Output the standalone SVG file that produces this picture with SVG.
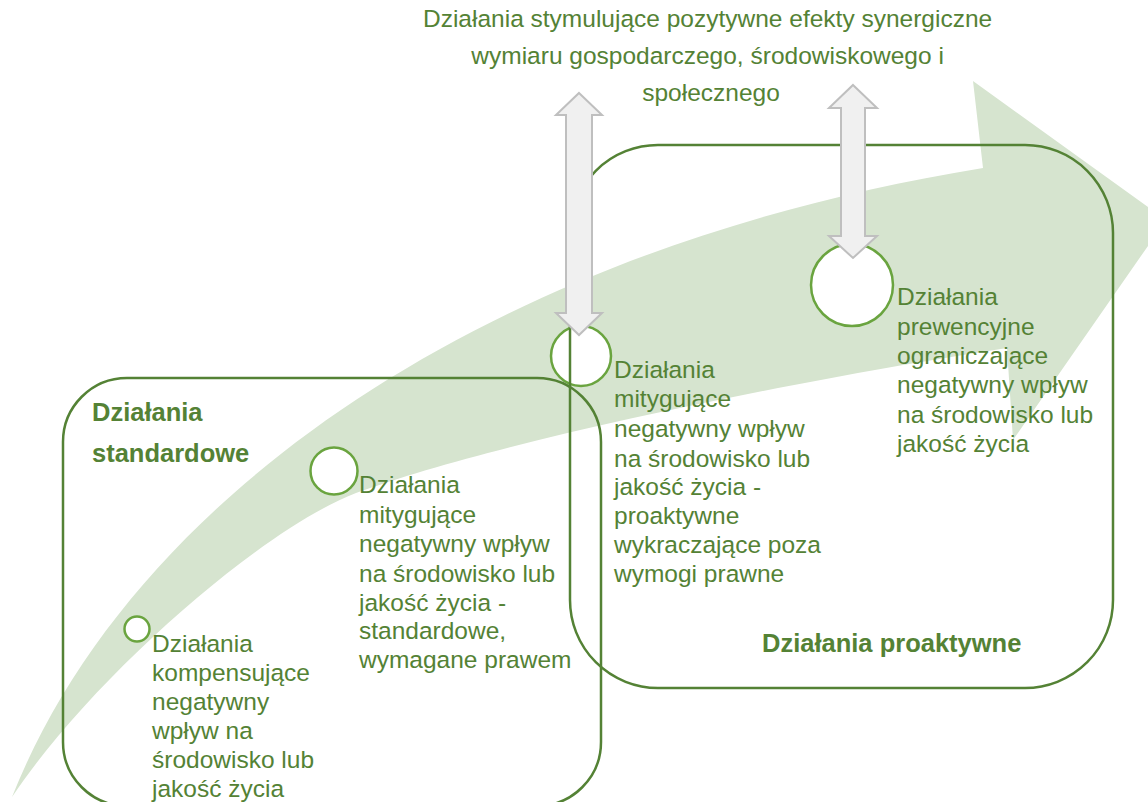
<svg xmlns="http://www.w3.org/2000/svg" width="1148" height="802" viewBox="0 0 1148 802">
<style>
.t { font-family: "Liberation Sans", Arial, sans-serif; font-size: 24.5px; fill: #548235; }
.b { font-weight: bold; font-size: 25.5px; }
.box { fill: none; stroke: #548235; stroke-width: 2.5; }
.dot { fill: #ffffff; stroke: #6aa43f; stroke-width: 2.5; }
.garrow { fill: #f0f0f0; stroke: #bfbfbf; stroke-width: 2; stroke-linejoin: miter; }
.flow { fill: #d6e4cf; }
</style>
<rect width="1148" height="802" fill="#ffffff"/>
<g id="flow-arrow">
  <path class="flow" d="M12,797 C130,500 480,250 983,168 L973,81 L1166,220 L1013,440 L1007,348 C800,380 500,440 356,493 C260,530 90,680 12,797 Z"/>
</g>
<g id="node-kompensujace">
  <circle class="dot" cx="137" cy="629" r="12.5"/>
</g>
<g id="node-mitygujace-standardowe">
  <circle class="dot" cx="334" cy="471" r="23.5"/>
</g>
<g id="node-mitygujace-proaktywne">
  <circle class="dot" cx="581" cy="356" r="30"/>
</g>
<g id="node-prewencyjne">
  <circle class="dot" cx="852" cy="285" r="41"/>
</g>
<g id="group-standardowe">
  <rect class="box" x="63" y="378" width="538" height="428" rx="64" ry="64"/>
  <text class="t b" x="92" y="421">Działania</text>
  <text class="t b" x="92" y="462">standardowe</text>
</g>
<g id="group-proaktywne">
  <rect class="box" x="570" y="145" width="543" height="543" rx="88" ry="88"/>
  <text class="t b" x="762" y="652">Działania proaktywne</text>
</g>
<g id="connectors">
  <polygon class="garrow" points="579,93 602,115 592,115 592,313 602,313 579,335 556,313 566,313 566,115 556,115"/>
  <polygon class="garrow" points="853,85 877,108 865,108 865,236 877,236 853,258 829,236 841,236 841,108 829,108"/>
</g>
<g id="node-synergia">
  <text class="t" text-anchor="middle">
    <tspan x="711" y="27">Działania stymulujące pozytywne efekty synergiczne</tspan>
    <tspan x="711" y="64">wymiaru gospodarczego, środowiskowego i</tspan>
    <tspan x="711" y="101">społecznego</tspan>
  </text>
</g>
<g id="label-kompensujace">
  <text class="t">
    <tspan x="152" y="652">Działania</tspan>
    <tspan x="152" y="681">kompensujące</tspan>
    <tspan x="152" y="710">negatywny</tspan>
    <tspan x="152" y="739">wpływ na</tspan>
    <tspan x="152" y="768">środowisko lub</tspan>
    <tspan x="152" y="797">jakość życia</tspan>
  </text>
</g>
<g id="label-mitygujace-standardowe">
  <text class="t">
    <tspan x="359" y="493">Działania</tspan>
    <tspan x="359" y="523">mitygujące</tspan>
    <tspan x="359" y="552">negatywny wpływ</tspan>
    <tspan x="359" y="582">na środowisko lub</tspan>
    <tspan x="359" y="611">jakość życia -</tspan>
    <tspan x="359" y="639">standardowe,</tspan>
    <tspan x="359" y="668">wymagane prawem</tspan>
  </text>
</g>
<g id="label-mitygujace-proaktywne">
  <text class="t">
    <tspan x="614" y="378">Działania</tspan>
    <tspan x="614" y="407">mitygujące</tspan>
    <tspan x="614" y="437">negatywny wpływ</tspan>
    <tspan x="614" y="467">na środowisko lub</tspan>
    <tspan x="614" y="495">jakość życia -</tspan>
    <tspan x="614" y="524">proaktywne</tspan>
    <tspan x="614" y="553">wykraczające poza</tspan>
    <tspan x="614" y="582">wymogi prawne</tspan>
  </text>
</g>
<g id="label-prewencyjne">
  <text class="t">
    <tspan x="897" y="305">Działania</tspan>
    <tspan x="897" y="335">prewencyjne</tspan>
    <tspan x="897" y="364">ograniczające</tspan>
    <tspan x="897" y="393">negatywny wpływ</tspan>
    <tspan x="897" y="423">na środowisko lub</tspan>
    <tspan x="897" y="452">jakość życia</tspan>
  </text>
</g>
</svg>
